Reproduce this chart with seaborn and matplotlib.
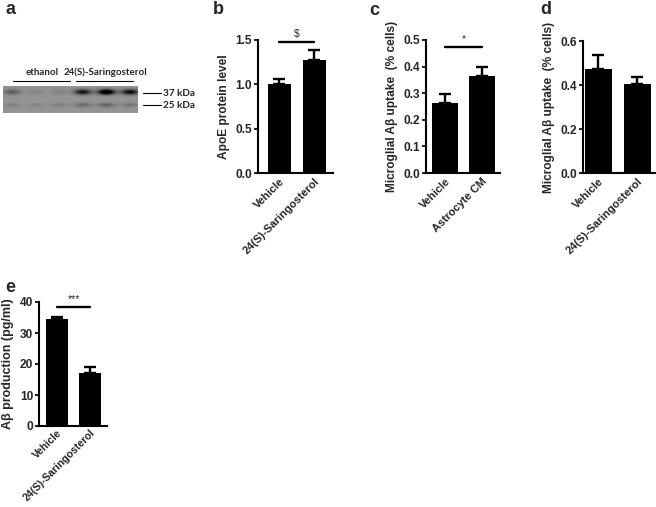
import numpy as np
import pandas as pd
import matplotlib
matplotlib.use("Agg")
import matplotlib.pyplot as plt
import seaborn as sns

# ---------------- data ----------------
# panel a (western blot band intensities, 0..1 darkness per lane)
blot_groups = ["ethanol", "24(S)-Saringosterol"]
blot_markers = ["37 kDa", "25 kDa"]
band37 = [0.30, 0.08, 0.10, 0.70, 1.00, 0.75]
band25 = [0.12, 0.10, 0.14, 0.28, 0.34, 0.22]

# panel b
b_cats = ["Vehicle", "24(S)-Saringosterol"]
b_vals = [1.00, 1.28]
b_err = [0.06, 0.11]
b_sig = 1.48
b_sig_text = "$"
b_ylabel = "ApoE protein level"
b_ticks = [0.0, 0.5, 1.0, 1.5]

# panel c
c_cats = ["Vehicle", "Astrocyte CM"]
c_vals = [0.265, 0.365]
c_err = [0.033, 0.035]
c_sig = 0.475
c_sig_text = "*"
c_ylabel = "Microglial A\u03b2 uptake  (% cells)"
c_ticks = [0.0, 0.1, 0.2, 0.3, 0.4, 0.5]

# panel d
d_cats = ["Vehicle", "24(S)-Saringosterol"]
d_vals = [0.475, 0.405]
d_err = [0.060, 0.030]
d_ylabel = "Microglial A\u03b2 uptake  (% cells)"
d_ticks = [0.0, 0.2, 0.4, 0.6]

# panel e
e_cats = ["Vehicle", "24(S)-Saringosterol"]
e_vals = [34.6, 17.0]
e_err = [0.7, 2.0]
e_sig = 38.5
e_sig_text = "***"
e_ylabel = "A\u03b2 production (pg/ml)"
e_ticks = [0, 10, 20, 30, 40]

# ---------------- figure ----------------
sns.set_style("white")
plt.rcParams["font.family"] = ["Liberation Sans", "DejaVu Sans"]
plt.rcParams["font.weight"] = "bold"

W, H = 656, 507
fig = plt.figure(figsize=(W / 100, H / 100), dpi=100)


def px_axes(l, t, r, b):
    return fig.add_axes([l / W, 1 - b / H, (r - l) / W, (b - t) / H])


def bar_panel(box, cats, vals, err, ticks, ylabel, xlim, width, sig=None, sig_text=None,
              fmt="{:.1f}", fs=8.6, fsx=8.0, fsl=8.6, xpad=2.5):
    ax = px_axes(*box)
    df = pd.DataFrame({"cat": cats, "val": vals})
    sns.barplot(data=df, x="cat", y="val", color="black", width=width,
                errorbar=None, ax=ax, saturation=1, linewidth=0, edgecolor="black")
    ax.errorbar(range(len(vals)), vals, yerr=[[0] * len(err), err], fmt="none",
                ecolor="black", elinewidth=1.7, capsize=4, capthick=1.7, clip_on=False)
    ax.set_xlim(*xlim)
    ax.set_ylim(ticks[0], ticks[-1])
    ax.set_yticks(ticks)
    ax.set_yticklabels([fmt.format(t) for t in ticks], fontsize=fs, fontweight="bold")
    ax.set_xticks(range(len(cats)))
    ax.set_xticklabels(cats, rotation=45, ha="right", rotation_mode="anchor",
                       fontsize=fsx, fontweight="bold")
    ax.set_xlabel("")
    ax.set_ylabel(ylabel, fontsize=fsl, fontweight="bold", labelpad=4)
    for s in ["top", "right"]:
        ax.spines[s].set_visible(False)
    for s in ["left", "bottom"]:
        ax.spines[s].set_linewidth(1.5)
        ax.spines[s].set_color("black")
    ax.tick_params(axis="y", direction="out", length=3, width=1.5, pad=1.2, left=True)
    ax.tick_params(axis="x", length=0, pad=xpad)
    if sig is not None:
        ax.plot([0, 1], [sig, sig], color="black", lw=1.7, clip_on=False)
        ax.text(0.5, sig + (ticks[-1] - ticks[0]) * 0.02, sig_text, ha="center",
                va="bottom", fontsize=7.5, fontweight="normal")
    return ax


# ---- panel a: blot ----
ax_a = px_axes(0, 0, 200, 130)
ax_a.set_xlim(0, 200)
ax_a.set_ylim(130, 0)
ax_a.axis("off")
bx0, bx1, by0, by1 = 3, 138, 86, 113
xs = np.arange(bx0, bx1) + 0.5
ys = np.arange(by0, by1) + 0.5
X, Y = np.meshgrid(xs, ys)
lane_centers = np.linspace(12, 130, len(band37))
img = np.full(X.shape, 0.58)
for cx, a37, a25 in zip(lane_centers, band37, band25):
    img -= a37 * 0.75 * np.exp(-((X - cx) ** 2 / (2 * 6.0 ** 2) + (Y - 92) ** 2 / (2 * 1.9 ** 2)))
    img -= a25 * 0.6 * np.exp(-((X - cx) ** 2 / (2 * 6.0 ** 2) + (Y - 105) ** 2 / (2 * 1.6 ** 2)))
img = np.clip(img, 0, 1)
ax_a.imshow(img, cmap="gray", vmin=0, vmax=1, extent=(bx0, bx1, by1, by0),
            aspect="auto", interpolation="bilinear")
blot_font = ["Lato", "DejaVu Sans"]
for name, (x0, x1) in zip(blot_groups, [(13, 70), (76, 133)]):
    ax_a.plot([x0, x1], [81, 81], color="black", lw=0.8)
    ax_a.text((x0 + x1) / 2 + 1, 77, name, ha="center", va="bottom", fontsize=7,
              fontweight="bold", family=blot_font)
for name, yy in zip(blot_markers, [93, 105]):
    ax_a.plot([143, 161], [yy, yy], color="black", lw=0.8)
    ax_a.text(163, yy, name, ha="left", va="center", fontsize=7.2,
              fontweight="bold", family=blot_font)

# ---- panels b-e ----
bar_panel((258, 40, 333, 173), b_cats, b_vals, b_err, b_ticks, b_ylabel,
          (-0.61, 1.53), 0.66, b_sig, b_sig_text)
bar_panel((426, 40, 500, 173), c_cats, c_vals, c_err, c_ticks, c_ylabel,
          (-0.51, 1.49), 0.70, c_sig, c_sig_text)
bar_panel((583, 41, 656, 173), d_cats, d_vals, d_err, d_ticks, d_ylabel,
          (-0.40, 1.49), 0.70)
bar_panel((39, 302, 107, 426), e_cats, e_vals, e_err, e_ticks, e_ylabel,
          (-0.545, 1.515), 0.67, e_sig, e_sig_text, fmt="{:d}", fsx=7.6, fsl=9.0, xpad=1.0)

# panel letters
for letter, (x, y) in zip("abcde", [(5, 1), (213, 1), (369, 2), (540, 1), (5, 279)]):
    fig.text(x / W, 1 - y / H, letter, ha="left", va="top", fontsize=13, fontweight="bold")

fig.savefig("out.png", dpi=100)
